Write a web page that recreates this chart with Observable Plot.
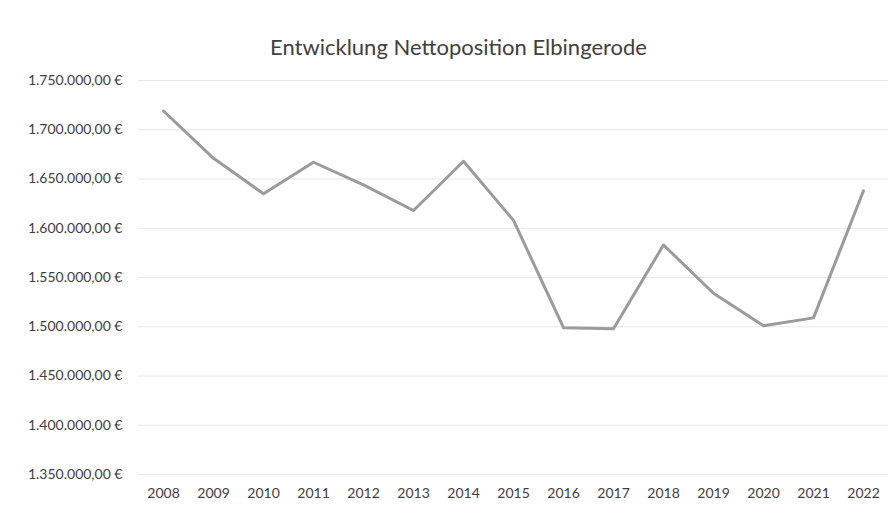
<!DOCTYPE html>
<html>
<head>
<meta charset="utf-8">
<script src="https://cdn.jsdelivr.net/npm/d3@7"></script>
<script src="https://cdn.jsdelivr.net/npm/@observablehq/plot@0.6"></script>
<style>
  body { margin: 0; background: #fff; width: 893px; height: 510px; overflow: hidden; font-family: Lato, sans-serif; }
  #title { height: 62px; line-height: 30px; padding-top: 32px; text-align: center; font-size: 22px; color: #404040; padding-left: 24px; box-sizing: border-box; overflow: visible; }
</style>
</head>
<body>
<div id="title">Entwicklung Nettoposition Elbingerode</div>
<div id="chart"></div>
<script>
const years = ["2008","2009","2010","2011","2012","2013","2014","2015","2016","2017","2018","2019","2020","2021","2022"];
const values = [1719000, 1671000, 1635000, 1667000, 1644000, 1618000, 1668000, 1608000, 1499000, 1498000, 1583000, 1534000, 1501000, 1509000, 1638000];
const yTicks = [1350000, 1400000, 1450000, 1500000, 1550000, 1600000, 1650000, 1700000, 1750000];

const data = years.map((y, i) => ({year: y, value: values[i]}));
const de = d3.formatLocale({decimal: ",", thousands: ".", grouping: [3], currency: ["", " €"]});
const fmt = de.format("$,.2f");

const chart = Plot.plot({
  width: 893,
  height: 448,
  marginLeft: 138,
  marginRight: 5,
  marginTop: 18,
  marginBottom: 36,
  style: {fontFamily: "Lato, sans-serif", fontSize: "14px", color: "#404040", background: "#fff"},
  x: {type: "point", domain: years, padding: 0.5, label: null, tickSize: 0, tickPadding: 14},
  y: {domain: [1350000, 1750000], ticks: yTicks, tickFormat: fmt, label: null, tickSize: 0, tickPadding: 16},
  marks: [
    Plot.ruleY(yTicks, {stroke: "#e8e8e8", strokeWidth: 1}),
    Plot.line(data, {x: "year", y: "value", stroke: "#9b9b9b", strokeWidth: 3, strokeLinejoin: "round", strokeLinecap: "round"})
  ]
});
document.getElementById("chart").appendChild(chart);
</script>
</body>
</html>
